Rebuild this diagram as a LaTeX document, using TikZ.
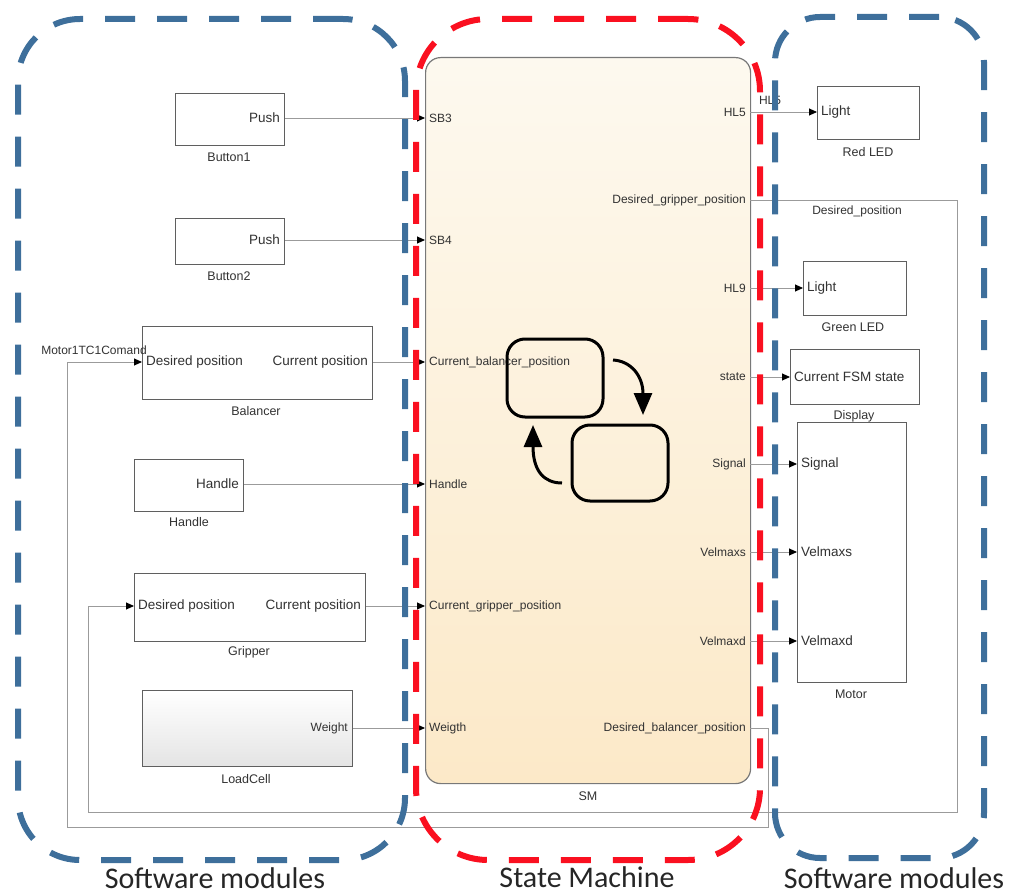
\documentclass[tikz,border=0pt]{standalone}
\usepackage{fontspec}
\setmainfont{Liberation Sans}
\newfontfamily\calfont{Carlito}
\usetikzlibrary{arrows.meta}
\definecolor{grpblue}{RGB}{62,111,155}
\definecolor{grpred}{RGB}{250,16,32}
\definecolor{wiregray}{RGB}{155,155,155}
\definecolor{blkline}{RGB}{95,95,95}
\definecolor{txt}{RGB}{50,50,50}
\definecolor{smtop}{RGB}{253,249,239}
\definecolor{smbot}{RGB}{252,233,200}
\definecolor{smline}{RGB}{120,120,120}
\definecolor{lctop}{RGB}{255,255,255}
\definecolor{lcbot}{RGB}{228,228,228}
\begin{document}
\begin{tikzpicture}[x=1pt,y=-1pt,
  block/.style={draw=blkline, line width=1.3pt, fill=white, inner sep=0pt, anchor=north west},
  portr/.style={font=\fontsize{13.5}{15}\selectfont, text=txt, anchor=east, inner sep=0pt},
  portl/.style={font=\fontsize{13.5}{15}\selectfont, text=txt, anchor=west, inner sep=0pt},
  smportl/.style={font=\fontsize{12}{14}\selectfont, text=txt, anchor=west, inner sep=0pt},
  smportr/.style={font=\fontsize{12}{14}\selectfont, text=txt, anchor=east, inner sep=0pt},
  blabel/.style={font=\fontsize{12.5}{14}\selectfont, text=txt, inner sep=0pt},
  wirestyle/.style={draw=wiregray, line width=0.9pt},
  sig/.style={wirestyle, -{Triangle[length=8pt,width=7pt,color=black]}},
  grpbox/.style={line width=6pt, dash pattern=on 30pt off 22pt, inner sep=0pt, anchor=north west},
  stbox/.style={draw=black, line width=3pt, rounded corners=18pt, inner sep=0pt},
  starrow/.style={draw=black, line width=3pt, -{Triangle[length=22pt,width=18pt]}},
  biglabel/.style={font=\calfont\fontsize{30}{34}\selectfont, text=black!85, anchor=base, inner sep=0pt}
]
\useasboundingbox (0,0) rectangle (1014,896);

% ---------- State machine block ----------
\node[draw=smline, line width=1.2pt, rounded corners=15pt, top color=smtop, bottom color=smbot,
      minimum width=325, minimum height=726, anchor=north west, inner sep=0pt] (SM) at (425,57) {};
\node[blabel] (SMlbl) at (588,796) {SM};

% SM input ports
\coordinate (inSB3) at (425,118);
\coordinate (inSB4) at (425,240);
\coordinate (inCBP) at (425,362);
\coordinate (inHdl) at (425,484);
\coordinate (inCGP) at (425,606);
\coordinate (inWgt) at (425,728);
\node[smportl] (tSB3) at (429,118) {SB3};
\node[smportl] (tSB4) at (429,240) {SB4};
\node[smportl] (tCBP) at (429,362) {Current\_balancer\_position};
\node[smportl] (tHdl) at (429,484) {Handle};
\node[smportl] (tCGP) at (429,606) {Current\_gripper\_position};
\node[smportl] (tWgt) at (429,728) {Weigth};

% SM output ports
\coordinate (outHL5) at (750,112);
\coordinate (outDGP) at (750,200);
\coordinate (outHL9) at (750,288);
\coordinate (outSt) at (750,377);
\coordinate (outSig) at (750,464);
\coordinate (outVs) at (750,552);
\coordinate (outVd) at (750,641);
\coordinate (outDBP) at (750,728);
\node[smportr] (tHL5) at (746,112) {HL5};
\node[smportr] (tDGP) at (746,200) {Desired\_gripper\_position};
\node[smportr] (tHL9) at (746,288) {HL9};
\node[smportr] (tSt) at (746,377) {state};
\node[smportr] (tSig) at (746,464) {Signal};
\node[smportr] (tVs) at (746,552) {Velmaxs};
\node[smportr] (tVd) at (746,641) {Velmaxd};
\node[smportr] (tDBP) at (746,728) {Desired\_balancer\_position};

% state machine icon
\node[stbox, minimum width=96, minimum height=78] (st1) at (555,378) {};
\node[stbox, minimum width=96, minimum height=76] (st2) at (620,463) {};
\coordinate (a1s) at (613,360);
\coordinate (a1e) at (643,415);
\coordinate (a2s) at (562,483);
\coordinate (a2e) at (533,425);
\draw[starrow] (a1s) .. controls (631,361) and (643,376) .. (a1e);
\draw[starrow] (a2s) .. controls (544,483) and (533,471) .. (a2e);

% ---------- Left blocks ----------
\node[block, minimum width=109, minimum height=52] (btn1) at (175,93) {};
\node[portr] (btn1p) at (280,118) {Push};
\node[blabel] (btn1l) at (229,157) {Button1};

\node[block, minimum width=109, minimum height=46] (btn2) at (175,218) {};
\node[portr] (btn2p) at (280,240) {Push};
\node[blabel] (btn2l) at (229,276) {Button2};

\node[block, minimum width=230, minimum height=73] (bal) at (142,326) {};
\node[portl] (balin) at (146,362) {Desired position};
\node[portr] (balout) at (368,362) {Current position};
\node[blabel] (ball) at (256,411) {Balancer};

\node[block, minimum width=109, minimum height=52] (hdl) at (134,459) {};
\node[portr] (hdlp) at (239,484) {Handle};
\node[blabel] (hdll) at (189,522) {Handle};

\node[block, minimum width=231, minimum height=68] (grip) at (134,573) {};
\node[portl] (gripin) at (138,606) {Desired position};
\node[portr] (gripout) at (361,606) {Current position};
\node[blabel] (gripl) at (249,652) {Gripper};

\node[block, top color=lctop, bottom color=lcbot, minimum width=210, minimum height=76] (load) at (142,690) {};
\node[smportr] (loadp) at (348,728) {Weight};
\node[blabel] (loadl) at (246,779) {LoadCell};

% ---------- Right blocks ----------
\node[block, minimum width=102, minimum height=53] (rled) at (817,86) {};
\node[portl] (rledp) at (821,112) {Light};
\node[blabel] (rledl) at (868,152) {Red LED};

\node[block, minimum width=103, minimum height=54] (gled) at (803,261) {};
\node[portl] (gledp) at (807,288) {Light};
\node[blabel] (gledl) at (853,327) {Green LED};

\node[block, minimum width=129, minimum height=55] (disp) at (790,349) {};
\node[portl] (dispp) at (794,377) {Current FSM state};
\node[blabel] (displ) at (854,416) {Display};

\node[block, minimum width=109, minimum height=260] (mot) at (797,422) {};
\node[portl] (motsig) at (801,464) {Signal};
\node[portl] (motvs) at (801,552) {Velmaxs};
\node[portl] (motvd) at (801,641) {Velmaxd};
\node[blabel] (motl) at (851,694) {Motor};

% ---------- Connectors ----------
\draw[sig] (btn1.east |- inSB3) -- (inSB3);
\draw[sig] (btn2.east |- inSB4) -- (inSB4);
\draw[sig] (bal.east |- inCBP) -- (inCBP);
\draw[sig] (hdl.east |- inHdl) -- (inHdl);
\draw[sig] (grip.east |- inCGP) -- (inCGP);
\draw[sig] (load.east |- inWgt) -- (inWgt);

\draw[sig] (outHL5) -- (rled.west |- outHL5);
\node[blabel, font=\fontsize{12}{14}\selectfont] (hl5w) at (770,100) {HL5};
\draw[sig] (outHL9) -- (gled.west |- outHL9);
\draw[sig] (outSt) -- (disp.west |- outSt);
\draw[sig] (outSig) -- (mot.west |- outSig);
\draw[sig] (outVs) -- (mot.west |- outVs);
\draw[sig] (outVd) -- (mot.west |- outVd);

\draw[sig] (outDGP) -- (957,200) -- (957,812) -- (88,812) |- (grip.west |- inCGP);
\node[blabel, font=\fontsize{12}{14}\selectfont] (dposl) at (857,211) {Desired\_position};
\draw[sig] (outDBP) -- (768,728) -- (768,827) -- (67,827) |- (bal.west |- inCBP);
\node[blabel, font=\fontsize{12}{14}\selectfont] (mcl) at (94,350) {Motor1TC1Comand};

% ---------- Group frames ----------
\node[grpbox, draw=grpblue, rounded corners=62pt, minimum width=387, minimum height=841] (gleft) at (15,16) {};
\node[grpbox, draw=grpred, rounded corners=72pt, minimum width=344, minimum height=841] (gmid) at (413,16) {};
\node[grpbox, draw=grpblue, rounded corners=45pt, minimum width=209, minimum height=841] (gright) at (772,14) {};

\node[biglabel] (lbl1) at (215,888) {Software modules};
\node[biglabel] (lbl2) at (587,887) {State Machine};
\node[biglabel] (lbl3) at (894,888) {Software modules};
\end{tikzpicture}
\end{document}
